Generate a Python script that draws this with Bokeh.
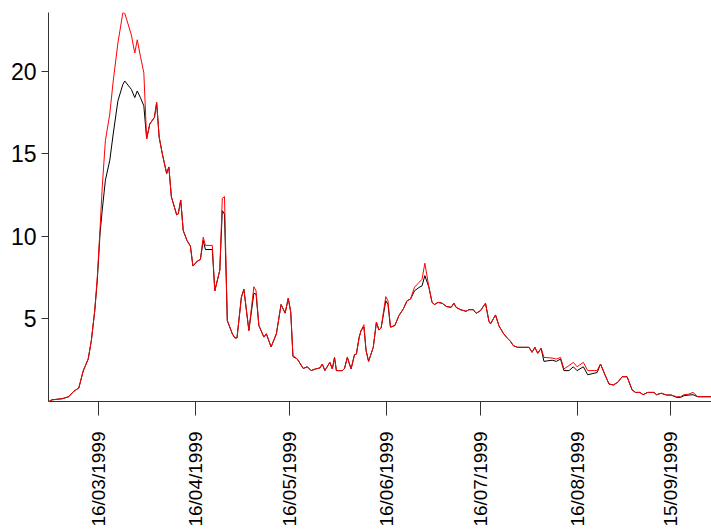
import math
import pandas as pd
from bokeh.plotting import figure
from bokeh.models import Range1d, FixedTicker, ColumnDataSource
from bokeh.embed import file_html
from bokeh.resources import INLINE

# Days since 1999-03-16 for each observed vertex
base_date = "1999-03-16"
days = [-15.8, -15.0, -11.7, -9.6, -8.0, -6.4, -5.0, -3.4, -2.4, -1.3, -0.5, 0.4, 1.1, 2.1, 3.5, 4.6,
        6.1, 7.7, 8.3, 10.4, 11.5, 12.3, 13.3, 14.4, 15.3, 16.3, 17.8, 18.5, 19.3, 20.3, 21.7, 22.4,
        23.2, 24.9, 25.4, 26.2, 27.0, 28.2, 29.3, 30.1, 31.5, 32.5, 33.4, 34.1, 36.3, 37.1, 38.7, 39.5,
        40.2, 41.1, 42.7, 43.5, 44.2, 45.6, 46.4, 48.0, 49.6, 50.3, 51.2, 52.8, 53.6, 55.1, 56.8, 58.3,
        59.6, 60.6, 61.4, 62.1, 63.5, 65.4, 66.7, 67.9, 69.3, 70.7, 71.5, 72.3, 73.9, 74.7, 75.4, 76.0,
        77.9, 78.6, 79.5, 80.7, 81.8, 82.4, 83.3, 83.9, 84.8, 85.5, 86.3, 87.8, 88.8, 89.6, 90.3, 91.8,
        92.5, 93.3, 94.7, 96.0, 97.4, 98.6, 99.7, 101.0, 102.4, 103.4, 104.3, 105.6, 106.6, 107.4, 108.5,
        109.8, 111.2, 112.7, 113.6, 114.3, 115.7, 117.5, 118.4, 119.8, 120.7, 122.1, 123.7, 124.8, 125.3,
        126.9, 128.0, 129.4, 130.6, 131.7, 132.6, 134.0, 137.6, 138.6, 139.5, 140.4, 141.5, 142.4, 145.0,
        146.4, 147.7, 148.8, 150.4, 151.8, 153.0, 155.0, 156.4, 159.4, 160.5, 161.8, 163.2, 164.6, 166.0,
        167.4, 169.0, 170.6, 171.7, 173.1, 174.1, 175.6, 177.6, 178.4, 179.9, 181.6, 183.1, 184.8, 186.1,
        187.2, 188.8, 190.1, 191.6, 198.0]

black_series = [0.03, 0.10, 0.17, 0.29, 0.62, 0.82, 1.85, 2.57, 3.68, 5.5, 7.3, 10.2, 11.6, 13.4, 14.6, 16.2,
                18.2, 19.2, 19.4, 18.9, 18.4, 18.8, 18.4, 17.9, 15.9, 16.8, 17.2, 18.1, 16.0, 15.0, 13.8, 14.2,
                12.4, 11.3, 11.35, 12.2, 10.35, 9.75, 9.4, 8.2, 8.5, 8.6, 9.75, 9.2, 9.2, 6.7, 7.95, 11.55,
                11.35, 4.9, 4.1, 3.85, 3.85, 6.3, 6.8, 4.3, 6.55, 6.5, 4.6, 3.9, 4.1, 3.3, 4.1, 5.87,
                5.35, 6.25, 5.4, 2.72, 2.57, 2.0, 2.1, 1.87, 1.97, 2.03, 2.27, 1.87, 2.37, 1.97, 2.67, 1.87,
                1.87, 2.0, 2.67, 1.97, 2.84, 2.87, 3.9, 4.3, 4.5, 3.08, 2.43, 3.28, 4.8, 4.33, 4.45, 6.1,
                5.87, 4.5, 4.6, 5.2, 5.6, 6.1, 6.2, 6.7, 6.9, 7.0, 7.62, 6.92, 6.0, 5.87, 6.0,
                5.95, 5.75, 5.7, 5.95, 5.7, 5.56, 5.46, 5.56, 5.56, 5.34, 5.5, 5.95, 4.86, 4.7,
                5.24, 4.58, 4.13, 3.85, 3.64, 3.38, 3.28, 3.28, 2.98, 3.28, 2.92, 3.22, 2.43, 2.5,
                2.43, 2.57, 1.87, 1.87, 2.1, 1.87, 2.1, 1.62, 1.75, 2.27, 1.67, 1.06, 1.0, 1.16,
                1.5, 1.5, 0.7, 0.55, 0.55, 0.41, 0.55, 0.55, 0.41, 0.5, 0.39, 0.39, 0.25, 0.25,
                0.35, 0.39, 0.41, 0.29, 0.29]

red_series = [0.03, 0.10, 0.17, 0.29, 0.62, 0.82, 1.85, 2.57, 3.68, 5.5, 7.5, 10.5, 13.0, 15.8, 17.4, 19.4,
              21.7, 23.55, 23.5, 22.2, 21.1, 21.9, 20.9, 19.9, 15.9, 16.8, 17.2, 18.1, 16.0, 15.0, 13.8, 14.2,
              12.4, 11.3, 11.35, 12.2, 10.35, 9.75, 9.4, 8.2, 8.5, 8.6, 9.95, 9.45, 9.45, 6.7, 7.95, 12.3,
              12.4, 4.9, 4.1, 3.85, 3.85, 6.3, 6.8, 4.3, 6.95, 6.7, 4.6, 3.9, 4.1, 3.3, 4.1, 5.87,
              5.35, 6.25, 5.4, 2.78, 2.57, 2.0, 2.1, 1.87, 1.97, 2.03, 2.27, 1.87, 2.37, 1.97, 2.67, 1.87,
              1.87, 2.0, 2.67, 1.97, 2.84, 2.87, 3.9, 4.3, 4.65, 3.08, 2.43, 3.28, 4.8, 4.33, 4.45, 6.35,
              6.1, 4.5, 4.6, 5.2, 5.6, 6.1, 6.2, 6.92, 7.2, 7.4, 8.37, 6.92, 6.0, 5.87, 6.0,
              5.95, 5.75, 5.7, 5.95, 5.7, 5.56, 5.46, 5.56, 5.56, 5.34, 5.5, 5.95, 4.86, 4.7,
              5.24, 4.58, 4.13, 3.85, 3.64, 3.38, 3.28, 3.28, 2.98, 3.28, 2.92, 3.22, 2.67, 2.63,
              2.57, 2.67, 1.97, 2.17, 2.37, 2.1, 2.37, 1.87, 1.87, 2.27, 1.67, 1.06, 1.0, 1.16,
              1.5, 1.5, 0.7, 0.55, 0.55, 0.41, 0.55, 0.55, 0.41, 0.5, 0.39, 0.39, 0.29, 0.29,
              0.41, 0.45, 0.55, 0.29, 0.29]

tick_dates = ["1999-03-16", "1999-04-16", "1999-05-16", "1999-06-16", "1999-07-16", "1999-08-16", "1999-09-15"]
tick_labels = ["16/03/1999", "16/04/1999", "16/05/1999", "16/06/1999", "16/07/1999", "16/08/1999", "15/09/1999"]
y_ticks = [5, 10, 15, 20]

base = pd.Timestamp(base_date)
tick_days = [int((pd.Timestamp(d) - base).days) for d in tick_dates]

source = ColumnDataSource(dict(x=days, black=black_series, red=red_series))

p = figure(width=711, height=529, output_backend="svg", toolbar_location=None,
           x_range=Range1d(-16.1, 196.0), y_range=Range1d(0, max(red_series)),
           min_border_left=48, min_border_right=0, min_border_top=12, min_border_bottom=128)

p.line("x", "black", source=source, line_color="black", line_width=1)
p.line("x", "red", source=source, line_color="#ff0000", line_width=1)

p.xgrid.visible = False
p.ygrid.visible = False
p.outline_line_color = None
p.background_fill_color = "white"
p.border_fill_color = "white"

xa = p.xaxis[0]
xa.ticker = FixedTicker(ticks=tick_days)
xa.major_label_overrides = {d: lab for d, lab in zip(tick_days, tick_labels)}
xa.major_label_orientation = math.pi / 2
xa.major_tick_out = 14
xa.major_tick_in = 0
xa.minor_tick_out = 0
xa.minor_tick_in = 0
xa.major_label_standoff = 16
xa.major_label_text_font = "Liberation Sans"
xa.major_label_text_font_size = "19px"
xa.major_label_text_color = "black"
xa.axis_line_color = "#333333"
xa.major_tick_line_color = "#333333"

ya = p.yaxis[0]
ya.ticker = FixedTicker(ticks=y_ticks)
ya.major_tick_out = 7
ya.major_tick_in = 0
ya.minor_tick_out = 0
ya.minor_tick_in = 0
ya.major_label_standoff = 5
ya.major_label_text_font = "Liberation Sans"
ya.major_label_text_font_size = "23px"
ya.major_label_text_color = "black"
ya.axis_line_color = "#333333"
ya.major_tick_line_color = "#333333"

open("out.html", "w").write(file_html(p, INLINE))
